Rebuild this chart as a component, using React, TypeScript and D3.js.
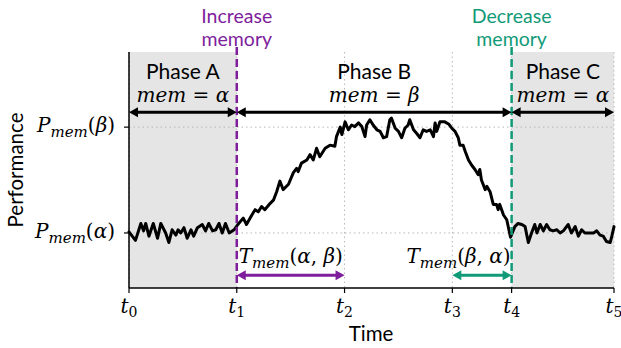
import * as d3 from 'd3'

// time axis (arbitrary units) and tick positions t0..t5
const T_TICKS = [0, 2, 4, 6, 7.1, 9]
const T_LABELS = ['0', '1', '2', '3', '4', '5']

// performance levels: P_mem(alpha) = 0, P_mem(beta) = 1
const P_ALPHA = 0
const P_BETA = 1

const TIME = [
  0, 0.12, 0.22, 0.27, 0.31, 0.37, 0.45, 0.53, 0.59, 0.68, 0.74, 0.8, 0.87, 0.91, 0.96, 1.02, 1.08, 1.15, 1.2, 1.27,
  1.36, 1.42, 1.48, 1.55, 1.61, 1.67, 1.73, 1.79, 1.86, 1.95, 2.02, 2.12, 2.18, 2.28, 2.34, 2.4, 2.46, 2.52, 2.62, 2.68,
  2.74, 2.8, 2.86, 2.96, 3.05, 3.11, 3.14, 3.2, 3.3, 3.36, 3.42, 3.48, 3.54, 3.64, 3.73, 3.82, 3.85, 3.92, 3.95, 4.01,
  4.07, 4.13, 4.19, 4.26, 4.32, 4.38, 4.41, 4.47, 4.53, 4.6, 4.66, 4.72, 4.78, 4.84, 4.87, 4.94, 5.0, 5.06, 5.12, 5.18,
  5.21, 5.28, 5.34, 5.4, 5.46, 5.52, 5.59, 5.65, 5.68, 5.71, 5.77, 5.86, 5.93, 5.99, 6.05, 6.11, 6.14, 6.2, 6.24, 6.3,
  6.36, 6.42, 6.48, 6.51, 6.54, 6.61, 6.64, 6.7, 6.76, 6.82, 6.85, 6.88, 6.95, 7.01, 7.08, 7.16, 7.22, 7.29, 7.35, 7.41,
  7.47, 7.53, 7.57, 7.63, 7.69, 7.75, 7.81, 7.87, 7.94, 8.0, 8.06, 8.15, 8.21, 8.28, 8.34, 8.4, 8.46, 8.52, 8.62, 8.68,
  8.74, 8.8, 8.86, 8.93, 8.96, 9.0,
]
const PERF = [
  0.01, -0.07, 0.09, 0.02, 0.09, -0.03, 0.09, -0.05, 0.09, 0.0, -0.09, 0.03, -0.02, 0.03, 0.0, 0.05, -0.05, 0.03, -0.03, 0.05,
  0.08, 0.02, 0.09, 0.02, 0.03, 0.09, 0.0, 0.09, 0.0, 0.03, 0.08, 0.14, 0.08, 0.17, 0.22, 0.2, 0.25, 0.22, 0.28, 0.31,
  0.39, 0.49, 0.41, 0.46, 0.57, 0.61, 0.58, 0.66, 0.69, 0.74, 0.69, 0.8, 0.72, 0.8, 0.83, 0.82, 0.91, 1.0, 0.93, 1.05,
  0.975, 1.02, 1.005, 1.04, 1.005, 0.91, 1.02, 1.07, 1.02, 0.975, 0.96, 0.9, 0.91, 1.07, 1.085, 0.99, 0.96, 0.9, 0.99, 1.02,
  1.07, 0.975, 0.94, 0.9, 0.975, 0.96, 0.975, 0.91, 1.04, 0.96, 1.05, 1.05, 1.03, 0.99, 0.96, 0.9, 0.83, 0.83, 0.77, 0.69,
  0.64, 0.6, 0.55, 0.6, 0.5, 0.41, 0.44, 0.39, 0.27, 0.27, 0.22, 0.27, 0.17, 0.125, -0.04, 0.06, 0.09, 0.08, 0.06, -0.09,
  0.0, 0.08, 0.0, 0.08, 0.02, 0.08, 0.03, 0.02, 0.03, 0.0, 0.02, 0.08, 0.0, 0.06, -0.03, 0.03, 0.0, 0.0, 0.0, 0.02,
  -0.02, -0.03, -0.08, -0.09, -0.03, 0.06,
]

const PHASES = [
  { name: 'Phase A', mem: 'α', from: 0, to: 1, shaded: true },
  { name: 'Phase B', mem: 'β', from: 1, to: 4, shaded: false },
  { name: 'Phase C', mem: 'α', from: 4, to: 5, shaded: true },
]

const PURPLE = '#7e1e9c'
const GREEN = '#119a78'

const MARKERS = [
  { tick: 1, lines: ['Increase', 'memory'], color: PURPLE },
  { tick: 4, lines: ['Decrease', 'memory'], color: GREEN },
]

const SERIF = "'DejaVu Serif', 'Liberation Serif', serif"
const SANS = "Lato, 'DejaVu Sans', sans-serif"

const W = 621
const H = 348

export default function App() {
  const x = d3.scaleLinear().domain([0, 9]).range([129, 614])
  const y = d3.scaleLinear().domain([-0.52, 1.71]).range([288, 52])

  const pts = TIME.map((t, i) => [t, PERF[i]] as [number, number])
  const line = d3.line<[number, number]>().x(d => x(d[0])).y(d => y(d[1]))

  const tx = (i: number) => x(T_TICKS[i])
  const yTop = y.range()[1]
  const yBot = y.range()[0]
  const yPhase = y(1.14)
  const yT = y(-0.4)

  // double-headed arrow between two x positions
  const arrow = (x1: number, x2: number, yy: number, color: string, key: string, lw = 3) => {
    const hl = 9
    const hw = 5
    return (
      <g key={key}>
        <line x1={x1 + hl - 1} x2={x2 - hl + 1} y1={yy} y2={yy} stroke={color} strokeWidth={lw} />
        <polygon points={`${x1},${yy} ${x1 + hl},${yy - hw} ${x1 + hl},${yy + hw}`} fill={color} />
        <polygon points={`${x2},${yy} ${x2 - hl},${yy - hw} ${x2 - hl},${yy + hw}`} fill={color} />
      </g>
    )
  }

  const sub = (base: string, rest: React.ReactNode) => (
    <>
      <tspan fontStyle="italic">{base}</tspan>
      <tspan fontStyle="italic" fontSize={15} dy={5}>mem</tspan>
      <tspan dy={-5}>{rest}</tspan>
    </>
  )

  return (
    <div style={{ position: 'fixed', left: 0, top: 0 }}>
      <svg width={W} height={H} style={{ display: 'block', background: '#fff' }}>
        {/* shaded phases */}
        {PHASES.filter(p => p.shaded).map(p => (
          <rect key={p.name} x={tx(p.from)} y={yTop} width={tx(p.to) - tx(p.from)} height={yBot - yTop} fill="#e5e5e5" />
        ))}

        {/* grid */}
        {T_TICKS.map((t, i) => (
          <line key={'gx' + i} x1={x(t)} x2={x(t)} y1={yTop} y2={yBot} stroke="#b8b8b8" strokeWidth={1} strokeDasharray="1.5,3" />
        ))}
        {[P_ALPHA, P_BETA].map(v => (
          <line key={'gy' + v} x1={x(0)} x2={x(9)} y1={y(v)} y2={y(v)} stroke="#b8b8b8" strokeWidth={1} strokeDasharray="1.5,3" />
        ))}

        {/* trace */}
        <path d={line(pts) ?? ''} fill="none" stroke="#000" strokeWidth={3} strokeLinejoin="round" strokeLinecap="round" />

        {/* memory change markers */}
        {MARKERS.map(m => (
          <g key={'m' + m.tick}>
            <line x1={tx(m.tick)} x2={tx(m.tick)} y1={47} y2={yBot} stroke={m.color} strokeWidth={2.5} strokeDasharray="8,4" />
            <text x={tx(m.tick)} y={22.5} textAnchor="middle" fontFamily={SANS} fontSize={19.5} fill={m.color}>{m.lines[0]}</text>
            <text x={tx(m.tick)} y={46} textAnchor="middle" fontFamily={SANS} fontSize={19.5} fill={m.color}>{m.lines[1]}</text>
          </g>
        ))}

        {/* phases */}
        {PHASES.map(p => {
          const cx = (tx(p.from) + tx(p.to)) / 2
          return (
            <g key={'ph' + p.name}>
              <text x={cx} y={79} textAnchor="middle" fontFamily={SANS} fontSize={21}>{p.name}</text>
              <text x={cx} y={102} textAnchor="middle" fontFamily={SERIF} fontSize={20}>
                <tspan fontStyle="italic">mem</tspan> = <tspan fontStyle="italic">{p.mem}</tspan>
              </text>
              {arrow(tx(p.from), tx(p.to), yPhase, '#000', 'a' + p.name)}
            </g>
          )
        })}

        {/* transition times */}
        {arrow(tx(1), tx(2), yT, PURPLE, 'ta')}
        {arrow(tx(3), tx(4), yT, GREEN, 'tb')}
        <text x={tx(1) + 2} y={263} fontFamily={SERIF} fontSize={20}>
          {sub('T', <>(<tspan fontStyle="italic">α</tspan>, <tspan fontStyle="italic">β</tspan>)</>)}
        </text>
        <text x={tx(4) - 1} y={263} textAnchor="end" fontFamily={SERIF} fontSize={20}>
          {sub('T', <>(<tspan fontStyle="italic">β</tspan>, <tspan fontStyle="italic">α</tspan>)</>)}
        </text>

        {/* axes */}
        <line x1={x(0)} x2={x(0)} y1={yTop} y2={yBot} stroke="#000" strokeWidth={1.5} />
        <line x1={x(0)} x2={x(9)} y1={yBot} y2={yBot} stroke="#000" strokeWidth={1.5} />
        {T_TICKS.map((t, i) => (
          <g key={'xt' + i}>
            <line x1={x(t)} x2={x(t)} y1={yBot} y2={yBot + 5} stroke="#000" strokeWidth={1.2} />
            <text x={x(t)} y={313} textAnchor="middle" fontFamily={SERIF} fontSize={20}>
              <tspan fontStyle="italic">t</tspan>
              <tspan fontSize={14} dy={4}>{T_LABELS[i]}</tspan>
            </text>
          </g>
        ))}
        {[
          { v: P_BETA, l: 'β' },
          { v: P_ALPHA, l: 'α' },
        ].map(d => (
          <g key={'yt' + d.l}>
            <line x1={x(0) - 5} x2={x(0)} y1={y(d.v)} y2={y(d.v)} stroke="#000" strokeWidth={1.2} />
            <text x={115} y={y(d.v) + 5} textAnchor="end" fontFamily={SERIF} fontSize={20}>
              {sub('P', <>(<tspan fontStyle="italic">{d.l}</tspan>)</>)}
            </text>
          </g>
        ))}

        <text x={371} y={341} textAnchor="middle" fontFamily={SANS} fontSize={20.5}>Time</text>
        <text transform={`translate(23,${(yTop + yBot) / 2}) rotate(-90)`} textAnchor="middle" fontFamily={SANS} fontSize={20.5}>
          Performance
        </text>
      </svg>
    </div>
  )
}
